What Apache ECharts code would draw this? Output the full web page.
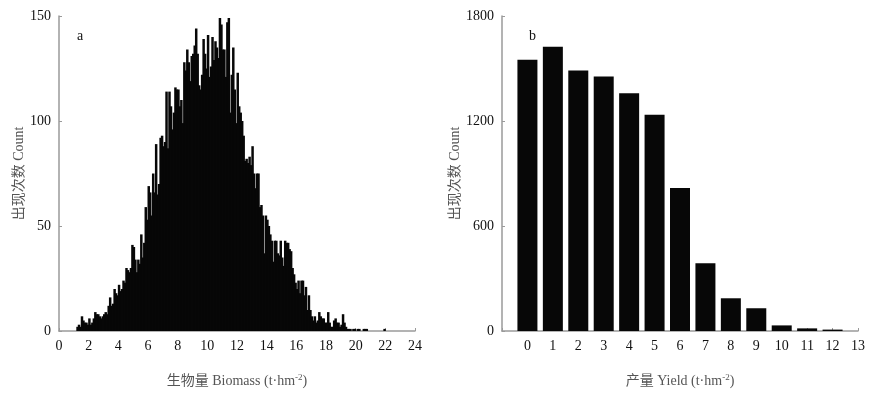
<!DOCTYPE html>
<html>
<head>
<meta charset="utf-8">
<script src="https://cdn.jsdelivr.net/npm/echarts@6/dist/echarts.min.js"></script>
<style>
  html, body { margin: 0; padding: 0; background: #fff; }
  #chart { width: 871px; height: 399px; }
</style>
</head>
<body>
<div id="chart"></div>
<script>
// a: 生物量直方图, bins of 0.1 t/hm2 starting at 1.2
const biomassStart = 1.2;
const binWidth = 0.1;
const biomassCounts = [
    2, 3, 2, 7, 5, 4, 4, 3, 6, 3, 4, 6, 9, 8, 8, 7, 6, 7,            // 1.2 - 2.9
    8, 9, 8, 12, 16, 12, 13, 20, 18, 17,                              // 3.0 - 3.9
    22, 19, 20, 24, 23, 30, 29, 28, 30, 41,                           // 4.0 - 4.9
    40, 34, 28, 34, 32, 46, 35, 42, 59, 53,                           // 5.0 - 5.9
    69, 66, 55, 75, 66, 89, 65, 70, 92, 93,                           // 6.0 - 6.9
    88, 90, 114, 87, 114, 107, 96, 104, 116, 115,                     // 7.0 - 7.9
    115, 107, 110, 99, 128, 124, 134, 128, 119, 131,                  // 8.0 - 8.9
    132, 136, 144, 132, 117, 115, 122, 139, 132, 125,                 // 9.0 - 9.9
    141, 121, 126, 140, 129, 138, 135, 130, 149, 146,                 // 10.0 - 10.9
    134, 134, 121, 147, 149, 104, 122, 135, 115, 99,                  // 11.0 - 11.9
    123, 107, 104, 100, 93, 81, 82, 80, 83, 79,                       // 12.0 - 12.9
    88, 75, 68, 75, 75, 59, 60, 55, 37, 55,                           // 13.0 - 13.9
    53, 50, 46, 43, 33, 43, 43, 37, 36, 43,                           // 14.0 - 14.9
    35, 31, 43, 42, 42, 39, 38, 30, 27, 23,                           // 15.0 - 15.9
    20, 24, 18, 24, 24, 17, 21, 10, 17, 10,                           // 16.0 - 16.9
    7, 5, 7, 4, 5, 9, 7, 6, 6, 4,                                     // 17.0 - 17.9
    4, 9, 4, 2, 2, 5, 6, 4, 4, 2,                                     // 18.0 - 18.9
    3, 8, 4, 2, 1, 1, 1, 0, 1, 1,                                     // 19.0 - 19.9
    0, 1, 1, 0, 0, 1, 1, 1, 0, 0,                                     // 20.0 - 20.9
    0, 0, 0, 0, 0, 0, 0, 0, 0, 1                                      // 21.0 - 21.9
];

// b: 产量
const yieldClasses = [0, 1, 2, 3, 4, 5, 6, 7, 8, 9, 10, 11, 12];
const yieldCounts = [1550, 1625, 1488, 1455, 1358, 1236, 817, 387, 187, 130, 32, 15, 8];

const biomassData = biomassCounts.map((c, i) => [+(biomassStart + i * binWidth).toFixed(1), c]);
const yieldData = yieldClasses.map((c, i) => [c, yieldCounts[i]]);

const FONT = '"Liberation Serif", "Noto Sans CJK SC", serif';
const BAR = '#070707';
const AXIS = '#9a9a9a';

const nameRich = {
    sup: { fontSize: 9, fontFamily: FONT, color: '#555', padding: [0, 0, 8, 0] }
};

function axisCommon() {
    return {
        axisLine: { show: true, onZero: false, lineStyle: { color: AXIS, width: 1.5 } },
        axisTick: { show: true, inside: true, length: 3, lineStyle: { color: AXIS } },
        splitLine: { show: false },
        axisLabel: { color: '#111', fontSize: 14, fontFamily: FONT },
        nameTextStyle: { color: '#555', fontSize: 14, fontFamily: FONT, rich: nameRich }
    };
}

const chart = echarts.init(document.getElementById('chart'));
const option = {
    animation: false,
    textStyle: { fontFamily: FONT },
    title: [
        { text: 'a', left: 72, top: 24, textStyle: { fontSize: 14, fontWeight: 'normal', color: '#111', fontFamily: FONT } },
        { text: 'b', left: 524, top: 24, textStyle: { fontSize: 14, fontWeight: 'normal', color: '#111', fontFamily: FONT } }
    ],
    grid: [
        { left: 59, right: 456, top: 16, bottom: 68 },
        { left: 502, right: 13, top: 16, bottom: 68 }
    ],
    xAxis: [
        Object.assign(axisCommon(), {
            type: 'value', gridIndex: 0, min: 0, max: 24, interval: 2,
            name: '生物量 Biomass (t·hm{sup|-2})', nameLocation: 'middle', nameGap: 42
        }),
        Object.assign(axisCommon(), {
            type: 'value', gridIndex: 1, min: -1, max: 13, interval: 1,
            name: '产量 Yield (t·hm{sup|-2})', nameLocation: 'middle', nameGap: 42
        })
    ],
    yAxis: [
        Object.assign(axisCommon(), {
            type: 'value', gridIndex: 0, min: 0, max: 150, interval: 50,
            name: '出现次数 Count', nameLocation: 'middle', nameGap: 30
        }),
        Object.assign(axisCommon(), {
            type: 'value', gridIndex: 1, min: 0, max: 1800, interval: 600,
            name: '出现次数 Count', nameLocation: 'middle', nameGap: 39
        })
    ],
    series: [
        {
            type: 'custom',
            xAxisIndex: 0,
            yAxisIndex: 0,
            data: biomassData,
            renderItem: function (params, api) {
                const x = api.value(0);
                const top = api.coord([x, api.value(1)]);
                const bottom = api.coord([x + binWidth, 0]);
                // small overlap so neighbouring bins merge into a solid block
                return {
                    type: 'rect',
                    shape: { x: top[0] - 0.5, y: top[1], width: bottom[0] - top[0] + 1, height: bottom[1] - top[1] },
                    style: { fill: BAR, opacity: 1 }
                };
            }
        },
        {
            type: 'bar',
            xAxisIndex: 1,
            yAxisIndex: 1,
            data: yieldData,
            barWidth: 20,
            itemStyle: { color: BAR }
        }
    ]
};
option.xAxis[1].axisLabel.formatter = function (v) { return v < 0 ? '' : String(v); };
option.yAxis[1].axisLabel.formatter = function (v) { return String(v); };
chart.setOption(option);
</script>
</body>
</html>
